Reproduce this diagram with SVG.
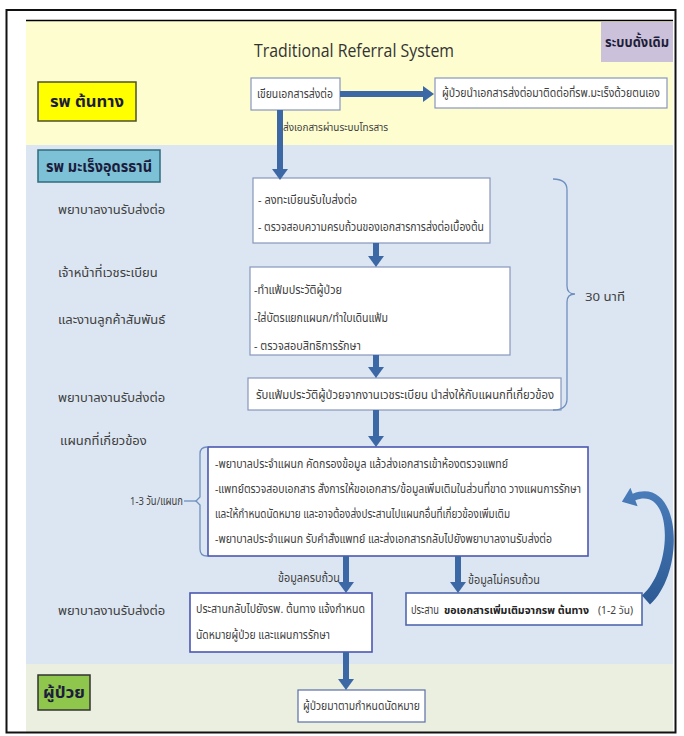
<svg xmlns="http://www.w3.org/2000/svg" width="684" height="736" viewBox="0 0 684 736">
<style>
.t{font-family:"Noto Sans Thai","Loma","Garuda","Tahoma","Liberation Sans",sans-serif;font-size:11.5px;fill:#404040}
.lbl{font-family:"Noto Sans Thai","Loma","Garuda","Tahoma","Liberation Sans",sans-serif;font-size:13px;fill:#404040}
.b{font-weight:bold}
.box{fill:#ffffff;stroke:#8797bd;stroke-width:1.2}
.boxs{fill:#ffffff;stroke:#4c58b0;stroke-width:1.6}
.arr{stroke:#3c69a6;stroke-width:6;fill:none;marker-end:url(#ah)}
.brace{fill:none;stroke:#6f8fbe;stroke-width:1.3}
</style>
<defs>
<marker id="ah" markerUnits="userSpaceOnUse" markerWidth="11" markerHeight="16" refX="0" refY="8" orient="auto" viewBox="0 0 11 16">
<path d="M0,0 L11,8 L0,16 z" fill="#3c69a6"/>
</marker>
<linearGradient id="cg" x1="0" y1="1" x2="0" y2="0">
<stop offset="0" stop-color="#2d5a94"/>
<stop offset="1" stop-color="#4a7dbb"/>
</linearGradient>
</defs>
<rect x="0" y="0" width="684" height="736" fill="#ffffff"/>
<g id="bands">
<rect x="26" y="20" width="647" height="125" fill="#fefdd0"/>
<line x1="26" y1="20.5" x2="673" y2="20.5" stroke="#000" stroke-width="1.5"/>
<rect x="26" y="145" width="647" height="519" fill="#dce6f2"/>
<rect x="26" y="664" width="647" height="68" fill="#ebefdf"/>
</g>
<rect x="6.5" y="10" width="669" height="722.5" fill="none" stroke="#111" stroke-width="2"/>
<g id="title">
<text x="354" y="57" text-anchor="middle" style="font-family:'Open Sans','Liberation Sans',sans-serif;font-size:19px;fill:#333" textLength="200" lengthAdjust="spacingAndGlyphs">Traditional Referral System</text>
</g>
<g id="tag">
<rect x="601" y="22" width="72" height="40" fill="#cbc1da"/>
<text x="637" y="47" text-anchor="middle" class="lbl b" style="fill:#1f1f3a;font-size:14px" textLength="64" lengthAdjust="spacingAndGlyphs">ระบบดั้งเดิม</text>
</g>
<g id="lane-origin">
<rect x="38" y="82" width="98" height="39" fill="#ffff00" stroke="#4f4f2a" stroke-width="1.5"/>
<text x="87" y="107" text-anchor="middle" class="lbl b" style="fill:#1c1c3c;font-size:15px" textLength="74" lengthAdjust="spacingAndGlyphs">รพ ต้นทาง</text>
</g>
<g id="n-write">
<rect x="251" y="78" width="89" height="32" class="box"/>
<text x="257" y="98" class="t" textLength="76" lengthAdjust="spacingAndGlyphs">เขียนเอกสารส่งต่อ</text>
</g>
<g id="n-self">
<rect x="435" y="78" width="232" height="30" class="box"/>
<text x="442" y="97" class="t" textLength="218" lengthAdjust="spacingAndGlyphs">ผู้ป่วยนำเอกสารส่งต่อมาติดต่อที่รพ.มะเร็งด้วยตนเอง</text>
</g>
<g id="lane-udon">
<rect x="38" y="150" width="122" height="32" fill="#7dc1d6" stroke="#2f6b7e" stroke-width="1.5"/>
<text x="99" y="172" text-anchor="middle" class="lbl b" style="fill:#1c1c3c;font-size:15px" textLength="106" lengthAdjust="spacingAndGlyphs">รพ มะเร็งอุดรธานี</text>
</g>
<g id="roles">
<text x="58" y="214" class="lbl">พยาบาลงานรับส่งต่อ</text>
<text x="58" y="277" class="lbl">เจ้าหน้าที่เวชระเบียน</text>
<text x="58" y="324" class="lbl">และงานลูกค้าสัมพันธ์</text>
<text x="58" y="402" class="lbl">พยาบาลงานรับส่งต่อ</text>
<text x="60" y="445" class="lbl">แผนกที่เกี่ยวข้อง</text>
<text x="58" y="615" class="lbl">พยาบาลงานรับส่งต่อ</text>
</g>
<g id="n-register">
<rect x="253" y="178" width="237" height="65" class="box"/>
<text x="258" y="204" class="t" textLength="99" lengthAdjust="spacingAndGlyphs">- ลงทะเบียนรับใบส่งต่อ</text>
<text x="258" y="231" class="t" textLength="226" lengthAdjust="spacingAndGlyphs">- ตรวจสอบความครบถ้วนของเอกสารการส่งต่อเบื้องต้น</text>
</g>
<g id="n-records">
<rect x="250" y="267" width="260" height="88" class="box"/>
<text x="254" y="294" class="t" textLength="88" lengthAdjust="spacingAndGlyphs">-ทำแฟ้มประวัติผู้ป่วย</text>
<text x="254" y="322" class="t" textLength="134" lengthAdjust="spacingAndGlyphs">-ใส่บัตรแยกแผนก/ทำใบเดินแฟ้ม</text>
<text x="254" y="350" class="t" textLength="107" lengthAdjust="spacingAndGlyphs">- ตรวจสอบสิทธิการรักษา</text>
</g>
<g id="n-forward">
<rect x="248" y="378" width="313" height="32" class="box"/>
<text x="256" y="399" class="t" textLength="298" lengthAdjust="spacingAndGlyphs">รับแฟ้มประวัติผู้ป่วยจากงานเวชระเบียน นำส่งให้กับแผนกที่เกี่ยวข้อง</text>
</g>
<g id="time30">
<path class="brace" d="M553,179 Q567,179 567,190 L567,286 Q567,294 575,294 Q567,294 567,302 L567,399 Q567,410 553,410"/>
<text x="585" y="301" class="t" textLength="40" lengthAdjust="spacingAndGlyphs">30 นาที</text>
</g>
<g id="n-dept">
<rect x="208" y="447" width="380" height="109" class="boxs"/>
<text x="215" y="468" class="t" textLength="293" lengthAdjust="spacingAndGlyphs">-พยาบาลประจำแผนก คัดกรองข้อมูล แล้วส่งเอกสารเข้าห้องตรวจแพทย์</text>
<text x="215" y="493" class="t" textLength="366" lengthAdjust="spacingAndGlyphs">-แพทย์ตรวจสอบเอกสาร  สั่งการให้ขอเอกสาร/ข้อมูลเพิ่มเติมในส่วนที่ขาด วางแผนการรักษา</text>
<text x="215" y="518" class="t" textLength="295" lengthAdjust="spacingAndGlyphs">และให้กำหนดนัดหมาย และอาจต้องส่งประสานไปแผนกอื่นที่เกี่ยวข้องเพิ่มเติม</text>
<text x="215" y="543" class="t" textLength="337" lengthAdjust="spacingAndGlyphs">-พยาบาลประจำแผนก รับคำสั่งแพทย์ และส่งเอกสารกลับไปยังพยาบาลงานรับส่งต่อ</text>
</g>
<g id="time13">
<path class="brace" d="M207,447 Q200,447 200,454 L200,497 L196,501 L200,505 L200,549 Q200,556 207,556"/>
<line x1="184" y1="501" x2="196" y2="501" stroke="#6f8fbe" stroke-width="1.3"/>
<text x="130" y="505" class="t" textLength="53" lengthAdjust="spacingAndGlyphs">1-3 วัน/แผนก</text>
</g>
<g id="n-complete">
<rect x="190" y="593" width="182" height="59" class="boxs"/>
<text x="196" y="613" class="t" textLength="169" lengthAdjust="spacingAndGlyphs">ประสานกลับไปยังรพ. ต้นทาง แจ้งกำหนด</text>
<text x="196" y="639" class="t" textLength="134" lengthAdjust="spacingAndGlyphs">นัดหมายผู้ป่วย และแผนการรักษา</text>
</g>
<g id="n-incomplete">
<rect x="406" y="593" width="236" height="32" class="boxs" style="stroke:#5068ae"/>
<text x="411" y="614" class="t" textLength="28" lengthAdjust="spacingAndGlyphs">ประสาน</text>
<text x="444" y="614" class="t b" style="fill:#222;font-size:10.5px" textLength="145" lengthAdjust="spacingAndGlyphs">ขอเอกสารเพิ่มเติมจากรพ ต้นทาง</text>
<text x="598" y="614" class="t" style="font-size:11px" textLength="35" lengthAdjust="spacingAndGlyphs">(1-2 วัน)</text>
</g>
<g id="lane-patient">
<rect x="38" y="675" width="52" height="35" fill="#8fc74d" stroke="#333" stroke-width="1.5"/>
<text x="64" y="698" text-anchor="middle" class="lbl b" style="fill:#1c1c3c;font-size:15px" textLength="42" lengthAdjust="spacingAndGlyphs">ผู้ป่วย</text>
</g>
<g id="n-appoint">
<rect x="298" y="690" width="127" height="32" class="box" style="stroke:#5a6ea8"/>
<text x="303" y="710" class="t" textLength="117" lengthAdjust="spacingAndGlyphs">ผู้ป่วยมาตามกำหนดนัดหมาย</text>
</g>
<g id="connectors">
<line class="arr" x1="340" y1="94" x2="423" y2="94"/>
<line class="arr" x1="280" y1="110" x2="280" y2="169"/>
<text x="283" y="131" class="t" style="font-size:10.5px" textLength="105" lengthAdjust="spacingAndGlyphs">ส่งเอกสารผ่านระบบโทรสาร</text>
<line class="arr" x1="376" y1="243" x2="376" y2="256"/>
<line class="arr" x1="376" y1="355" x2="376" y2="367"/>
<line class="arr" x1="376" y1="410" x2="376" y2="436"/>
<line class="arr" x1="346" y1="556" x2="346" y2="582"/>
<text x="278" y="582" class="t" textLength="62" lengthAdjust="spacingAndGlyphs">ข้อมูลครบถ้วน</text>
<line class="arr" x1="458" y1="556" x2="458" y2="582"/>
<text x="468" y="584" class="t" textLength="72" lengthAdjust="spacingAndGlyphs">ข้อมูลไม่ครบถ้วน</text>
<line class="arr" x1="346" y1="652" x2="346" y2="679"/>
<path d="M650,604.5 C686,572 682,475 632.7,493.7 L630.4,487.7 L621.9,501.7 L637.6,506.3 L635.3,500.3 C673,485 674,568 642,595.5 Z" fill="url(#cg)"/>
</g>
</svg>
